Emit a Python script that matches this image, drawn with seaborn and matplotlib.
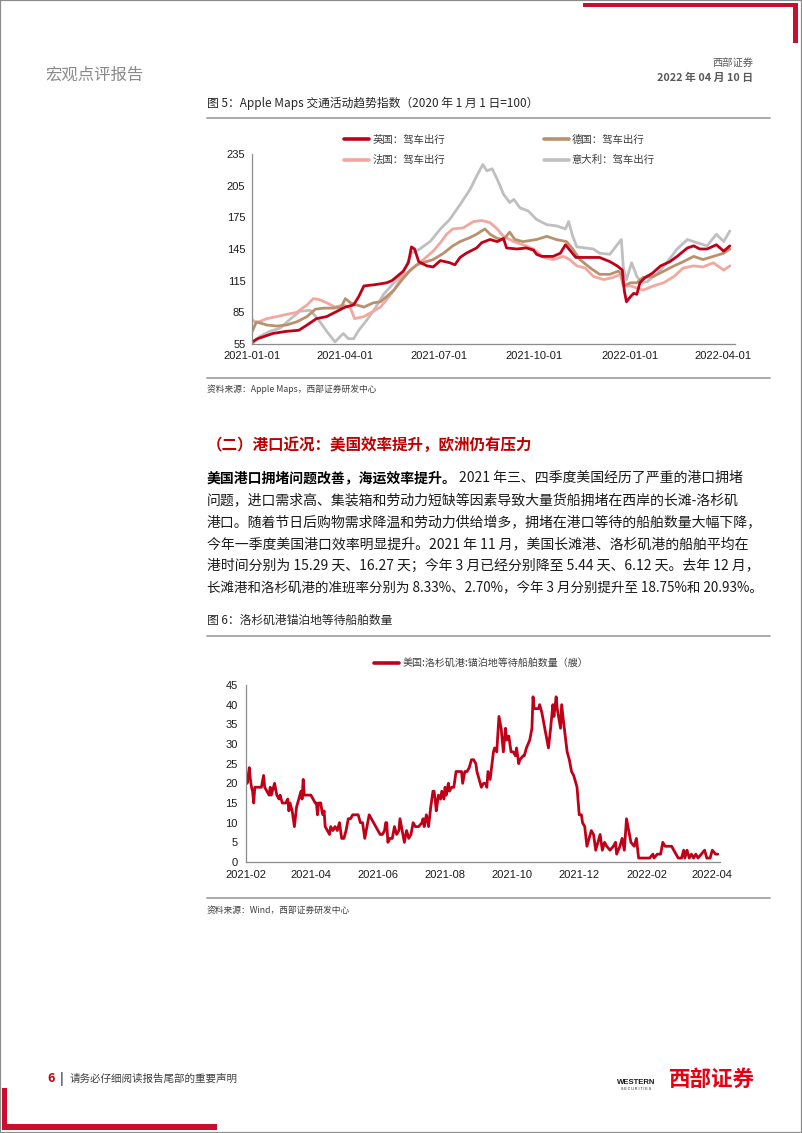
import numpy as np
import pandas as pd
import matplotlib
matplotlib.use("Agg")
import matplotlib.pyplot as plt
import matplotlib.dates as mdates
from matplotlib.patches import Rectangle
from matplotlib.lines import Line2D
import seaborn as sns

# ---------------- data: chart 1 (Apple Maps driving index, day offset from 2021-01-01) ----------------
uk_days = [0, 5, 11, 20, 33, 45, 53, 62, 72, 82, 90, 98, 103, 108, 117, 124, 130, 135, 140, 146, 151, 154, 157,
           161, 169, 175, 182, 191, 196, 201, 207, 217, 222, 230, 237, 243, 246, 256, 265, 272, 275, 280, 291, 298,
           303, 308, 313, 318, 327, 336, 346, 353, 358, 360, 362, 366, 369, 372, 375, 380, 387, 395, 404, 411, 421,
           427, 433, 440, 449, 456, 462]
uk_vals = [57, 60, 62, 65, 67, 68, 73, 79, 81, 86, 90, 92, 100, 110, 111, 112, 113, 115, 119, 124, 132, 147, 145,
           133, 129, 128, 134, 132, 130, 137, 141, 146, 151, 154, 152, 155, 146, 145, 146, 144, 140, 138, 138, 141,
           149, 143, 137, 137, 137, 137, 133, 129, 125, 105, 95, 100, 103, 102, 113, 118, 122, 129, 133, 138, 146,
           148, 145, 145, 149, 143, 148]

de_days = [0, 4, 14, 24, 33, 43, 53, 61, 69, 78, 86, 90, 95, 101, 108, 117, 124, 130, 137, 145, 153, 159, 165, 175,
           185, 194, 201, 211, 217, 225, 230, 237, 243, 249, 254, 262, 275, 285, 294, 304, 310, 317, 327, 336, 346,
           354, 357, 359, 366, 372, 378, 388, 398, 408, 417, 427, 436, 446, 456, 462]
de_vals = [67, 76, 73, 72, 73, 76, 81, 88, 89, 89, 90, 98, 94, 92, 90, 94, 95, 100, 106, 116, 125, 130, 132, 135,
           141, 148, 152, 156, 159, 164, 159, 155, 154, 161, 154, 152, 154, 157, 154, 152, 145, 135, 127, 121, 121,
           124, 122, 110, 113, 113, 118, 119, 124, 129, 133, 138, 135, 138, 141, 145]

fr_days = [0, 4, 14, 24, 33, 43, 53, 59, 65, 72, 80, 88, 95, 99, 108, 117, 124, 130, 137, 145, 153, 162, 168, 175,
           182, 188, 194, 204, 214, 222, 230, 237, 243, 253, 262, 272, 282, 291, 301, 307, 314, 322, 330, 340, 349,
           356, 359, 366, 372, 378, 388, 398, 408, 417, 427, 436, 446, 456, 462]
fr_vals = [78, 75, 79, 81, 83, 85, 92, 98, 97, 94, 90, 92, 89, 79, 81, 86, 90, 97, 106, 119, 125, 132, 137, 143,
           151, 159, 164, 165, 171, 172, 170, 164, 157, 152, 149, 145, 137, 135, 138, 135, 129, 127, 119, 116, 118,
           121, 110, 110, 108, 106, 110, 113, 119, 127, 129, 128, 132, 125, 129]

it_days = [0, 7, 17, 27, 36, 46, 56, 64, 72, 80, 88, 93, 98, 103, 111, 117, 127, 137, 146, 154, 162, 172, 182, 191,
           201, 211, 217, 223, 227, 232, 237, 243, 249, 253, 259, 267, 275, 285, 294, 303, 306, 310, 314, 322, 330,
           336, 346, 353, 357, 359, 362, 367, 372, 377, 382, 392, 401, 411, 421, 430, 440, 449, 456, 462]
it_vals = [55, 62, 67, 70, 78, 86, 87, 78, 67, 57, 65, 60, 60, 68, 78, 86, 102, 113, 122, 141, 145, 152, 164, 173,
           187, 202, 214, 225, 219, 221, 211, 197, 189, 192, 184, 181, 173, 168, 167, 164, 171, 157, 147, 146, 145,
           141, 140, 149, 154, 127, 116, 132, 119, 113, 114, 122, 132, 145, 154, 151, 148, 159, 152, 162]

series1_names = ["英国：驾车出行", "德国：驾车出行", "法国：驾车出行", "意大利：驾车出行"]
y1_ticks = [55, 85, 115, 145, 175, 205, 235]
x1_ticks = ["2021-01-01", "2021-04-01", "2021-07-01", "2021-10-01", "2022-01-01", "2022-04-01"]

# ---------------- data: chart 2 (LA port anchored ships, day offset from 2021-02-01) ----------------
la_days = [0, 1, 2, 3, 4, 5, 6, 7, 8, 10, 12, 14, 16, 17, 19, 21, 22, 23, 25, 26, 28, 30, 31, 33, 36, 38, 39, 40,
           42, 44, 46, 48, 50, 51, 52, 53, 56, 59, 61, 63, 64, 65, 66, 68, 69, 70, 71, 72, 74, 76, 77, 79, 81, 83,
           85, 87, 89, 91, 93, 95, 97, 100, 102, 104, 106, 108, 110, 112, 114, 116, 118, 120, 122, 124, 126, 127,
           128, 129, 131, 133, 135, 137, 139, 140, 142, 144, 146, 148, 150, 152, 154, 157, 160, 161, 162, 164, 166,
           168, 170, 171, 172, 173, 175, 177, 178, 180, 181, 182, 184, 185, 187, 189, 191, 194, 196, 197, 199, 201,
           203, 205, 207, 209, 210, 212, 214, 216, 218, 219, 220, 222, 225, 226, 228, 230, 232, 234, 236, 237, 239,
           241, 243, 245, 246, 248, 249, 252, 253, 255, 258, 260, 261, 262, 266, 267, 269, 271, 273, 275, 277, 279,
           280, 282, 283, 286, 287, 289, 292, 294, 296, 298, 301, 303, 305, 306, 308, 310, 312, 314, 316, 318, 320,
           322, 324, 326, 328, 331, 334, 336, 337, 340, 342, 344, 346, 348, 350, 353, 355, 357, 359, 363, 367, 370,
           371, 374, 377, 379, 381, 384, 387, 389, 391, 393, 396, 398, 399, 401, 403, 405, 407, 409, 411, 414, 417,
           419, 422, 424, 427, 429]
la_vals = [22, 20, 22, 24, 21, 19, 18, 15, 19, 19, 19, 19, 22, 19, 18, 17, 19, 17, 19, 20, 17, 16, 17, 15, 15, 16,
           13, 15, 13, 9, 14, 16, 18, 16, 21, 17, 17, 17, 16, 15, 15, 12, 15, 15, 13, 12, 13, 9, 8, 7, 9, 8, 9, 8, 10,
           6, 6, 8, 11, 11, 12, 12, 12, 10, 10, 6, 9, 12, 11, 10, 9, 8, 7, 7, 8, 10, 10, 5, 6, 6, 9, 7, 8, 11, 8, 5,
           8, 6, 7, 10, 9, 9, 10, 11, 9, 12, 9, 14, 18, 18, 16, 13, 17, 16, 18, 16, 19, 17, 20, 18, 19, 19, 23, 23,
           23, 20, 23, 23, 24, 26, 26, 25, 23, 21, 19, 20, 20, 19, 23, 21, 28, 29, 28, 37, 34, 28, 34, 31, 32, 28, 28,
           27, 29, 25, 26, 27, 27, 29, 31, 34, 42, 39, 39, 40, 38, 35, 32, 29, 34, 40, 37, 42, 39, 34, 40, 35, 28, 26,
           23, 22, 19, 12, 12, 10, 9, 4, 6, 8, 7, 3, 5, 7, 3, 5, 4, 3, 4, 5, 2, 4, 6, 3, 11, 8, 5, 4, 6, 1, 1, 1, 1,
           2, 1, 2, 2, 5, 4, 4, 4, 3, 2, 1, 1, 3, 1, 3, 1, 2, 1, 2, 1, 2, 3, 1, 1, 3, 2, 2]
series2_name = "美国:洛杉矶港:锚泊地等待船舶数量（艘）"
y2_ticks = [0, 5, 10, 15, 20, 25, 30, 35, 40, 45]
x2_ticks = ["2021-02-01", "2021-04-01", "2021-06-01", "2021-08-01", "2021-10-01", "2021-12-01",
            "2022-02-01", "2022-04-01"]

# ---------------- page text ----------------
header_left = "宏观点评报告"
header_company = "西部证券"
header_date = "2022 年 04 月 10 日"
fig5_title = "图 5：Apple Maps 交通活动趋势指数（2020 年 1 月 1 日=100）"
fig5_source = "资料来源：Apple Maps，西部证券研发中心"
section_title = "（二）港口近况：美国效率提升，欧洲仍有压力"
body_bold = "美国港口拥堵问题改善，海运效率提升。"
body_lines = [
    "2021 年三、四季度美国经历了严重的港口拥堵",
    "问题，进口需求高、集装箱和劳动力短缺等因素导致大量货船拥堵在西岸的长滩-洛杉矶",
    "港口。随着节日后购物需求降温和劳动力供给增多，拥堵在港口等待的船舶数量大幅下降，",
    "今年一季度美国港口效率明显提升。2021 年 11 月，美国长滩港、洛杉矶港的船舶平均在",
    "港时间分别为 15.29 天、16.27 天；今年 3 月已经分别降至 5.44 天、6.12 天。去年 12 月，",
    "长滩港和洛杉矶港的准班率分别为 8.33%、2.70%，今年 3 月分别提升至 18.75%和 20.93%。",
]
fig6_title = "图 6：洛杉矶港锚泊地等待船舶数量"
fig6_source = "资料来源：Wind，西部证券研发中心"
footer_text = "请务必仔细阅读报告尾部的重要声明"
page_no = "6"

# ---------------- styling ----------------
W, H = 802, 1133
RED = "#C00018"
sns.set_theme(style="white")
plt.rcParams["font.family"] = ["Noto Sans CJK SC", "DejaVu Sans"]
plt.rcParams["axes.unicode_minus"] = False

fig = plt.figure(figsize=(W / 100, H / 100), dpi=100)
fig.patch.set_facecolor("white")


def rect(l, t, r, b):
    return [l / W, 1 - b / H, (r - l) / W, (b - t) / H]


def fx(x):
    return x / W


def fy(y):
    return 1 - y / H


def box(l, t, r, b, color):
    fig.add_artist(Rectangle((fx(l), fy(b)), (r - l) / W, (b - t) / H, transform=fig.transFigure,
                             facecolor=color, edgecolor="none", zorder=5))


def hline(y, x0, x1, color="#9A9A9A", lw=1.2):
    fig.add_artist(Line2D([fx(x0), fx(x1)], [fy(y), fy(y)], transform=fig.transFigure, color=color, lw=lw))


# page frame and red decorations
fig.add_artist(Rectangle((0, 0), 1, 1, transform=fig.transFigure, fill=False, edgecolor="#8C8C8C", lw=1.6))
box(583, 3, 798, 7, "#C8102E")
box(793, 3, 798, 43, "#C8102E")
box(2, 1088, 7, 1130, "#C8102E")
box(2, 1124, 217, 1130, "#C8102E")

# header
fig.text(fx(45), fy(75), header_left, fontsize=11.8, color="#8A8A8A", va="center", ha="left")
fig.text(fx(753), fy(63), header_company, fontsize=7.4, color="#595959", va="center", ha="right")
fig.text(fx(753), fy(78), header_date, fontsize=7.8, color="#595959", va="center", ha="right", fontweight="bold")

# figure 5 caption and rules
fig.text(fx(207), fy(103), fig5_title, fontsize=8.5, color="#262626", va="center", ha="left")
hline(118, 207, 770)
hline(378, 207, 770)
fig.text(fx(207), fy(389), fig5_source, fontsize=6.3, color="#404040", va="center", ha="left")

# ---------------- chart 1 ----------------
tick_font = "Liberation Sans"
base1 = pd.Timestamp("2021-01-01")
ax1 = fig.add_axes(rect(252.3, 154, 735, 344))
colors1 = {"英国：驾车出行": "#C00018", "德国：驾车出行": "#B8916F",
           "法国：驾车出行": "#F2A79F", "意大利：驾车出行": "#BFBFBF"}
data1 = {"英国：驾车出行": (uk_days, uk_vals), "德国：驾车出行": (de_days, de_vals),
         "法国：驾车出行": (fr_days, fr_vals), "意大利：驾车出行": (it_days, it_vals)}
draw_order = ["意大利：驾车出行", "法国：驾车出行", "德国：驾车出行", "英国：驾车出行"]
for name in draw_order:
    d, v = data1[name]
    df = pd.DataFrame({"date": base1 + pd.to_timedelta(d, unit="D"), "value": v})
    sns.lineplot(data=df, x="date", y="value", ax=ax1, color=colors1[name], linewidth=2.0,
                 estimator=None, legend=False)
ax1.set_xlim(base1, base1 + pd.Timedelta(days=467))
ax1.set_ylim(55, 235)
ax1.set_yticks(y1_ticks)
ax1.set_xticks(pd.to_datetime(x1_ticks))
ax1.xaxis.set_major_formatter(mdates.DateFormatter("%Y-%m-%d"))
ax1.set_xlabel("")
ax1.set_ylabel("")

handles1 = [Line2D([], [], color=colors1[n], lw=2.6) for n in
            ["英国：驾车出行", "法国：驾车出行", "德国：驾车出行", "意大利：驾车出行"]]
labels1 = ["英国：驾车出行", "法国：驾车出行", "德国：驾车出行", "意大利：驾车出行"]
ax1.legend(handles1, labels1, ncol=2, loc="upper left", bbox_to_anchor=(fx(344), fy(135)),
           bbox_transform=fig.transFigure, frameon=False, fontsize=7.5, handlelength=2.4,
           handletextpad=0.3, columnspacing=9.5, labelspacing=0.95, borderpad=0, borderaxespad=0,
           labelcolor="#404040")

# section heading and body
fig.text(fx(207), fy(445), section_title, fontsize=11.2, color="#C00000", va="center", ha="left",
         fontweight="bold")

renderer = fig.canvas.get_renderer()
FS = 10.0
line_y = [478, 500, 522, 544, 566, 588]
TEXT_RIGHT = 762
t0 = fig.text(fx(207), fy(line_y[0]), body_bold, fontsize=FS, fontweight="bold", color="#000000",
              va="center", ha="left")
bb = t0.get_window_extent(renderer)
x_start = [bb.x1 + 2] + [207] * 5
for i, (txt, y) in enumerate(zip(body_lines, line_y)):
    t = fig.text(fx(x_start[i]), fy(y), txt, fontsize=FS, color="#1A1A1A", va="center", ha="left")
    w = t.get_window_extent(renderer).width
    avail = TEXT_RIGHT - x_start[i]
    if w > avail:
        t.set_fontsize(FS * avail / w)

fig.text(fx(207), fy(620), fig6_title, fontsize=8.5, color="#262626", va="center", ha="left")
hline(636, 207, 770)
hline(898, 207, 770)
fig.text(fx(207), fy(910), fig6_source, fontsize=6.3, color="#404040", va="center", ha="left")

# ---------------- chart 2 ----------------
base2 = pd.Timestamp("2021-02-01")
ax2 = fig.add_axes(rect(246, 685, 720, 862))
df2 = pd.DataFrame({"date": base2 + pd.to_timedelta(la_days, unit="D"), "value": la_vals})
sns.lineplot(data=df2, x="date", y="value", ax=ax2, color=RED, linewidth=2.0, estimator=None, legend=False)
ax2.set_xlim(base2, base2 + pd.Timedelta(days=431))
ax2.set_ylim(0, 45)
ax2.set_yticks(y2_ticks)
ax2.set_xticks(pd.to_datetime(x2_ticks))
ax2.xaxis.set_major_formatter(mdates.DateFormatter("%Y-%m"))
ax2.set_xlabel("")
ax2.set_ylabel("")
ax2.legend([Line2D([], [], color=RED, lw=2.6)], [series2_name], loc="upper left",
           bbox_to_anchor=(fx(374), fy(658)), bbox_transform=fig.transFigure, frameon=False,
           fontsize=7.2, handlelength=2.5, handletextpad=0.4, borderpad=0, borderaxespad=0,
           labelcolor="#404040")

for ax, xpad, ypad in [(ax1, 5, 5), (ax2, 6, 6)]:
    for s in ["top", "right"]:
        ax.spines[s].set_visible(False)
    for s in ["left", "bottom"]:
        ax.spines[s].set_color("#8C8C8C")
        ax.spines[s].set_linewidth(0.9)
    ax.tick_params(axis="x", direction="in", length=3, width=0.8, color="#8C8C8C", pad=xpad,
                   labelsize=8, labelcolor="#1A1A1A")
    ax.tick_params(axis="y", direction="in", length=0, pad=ypad, labelsize=8, labelcolor="#1A1A1A")
    for lab in ax.get_xticklabels() + ax.get_yticklabels():
        lab.set_fontfamily(tick_font)
    ax.set_facecolor("white")
    ax.grid(False)

# ---------------- footer ----------------
fig.text(fx(51), fy(1079), page_no, fontsize=9, color="#C00000", fontweight="bold", va="center", ha="center")
fig.text(fx(62), fy(1079), "|", fontsize=9, color="#404040", va="center", ha="center", fontweight="bold")
fig.text(fx(70), fy(1079), footer_text, fontsize=7.6, color="#404040", va="center", ha="left")
fig.text(fx(755), fy(1079), "西部证券", fontsize=15.5, color="#E60012", fontweight="heavy",
         va="center", ha="right")
fig.text(fx(636), fy(1082), "WESTERN", fontsize=5.6, color="#1A1A1A", fontweight="bold",
         va="center", ha="center", family="Liberation Sans")
fig.text(fx(636), fy(1089), "S E C U R I T I E S", fontsize=2.6, color="#1A1A1A",
         va="center", ha="center", family="Liberation Sans")

fig.savefig("out.png", dpi=100, facecolor="white")
